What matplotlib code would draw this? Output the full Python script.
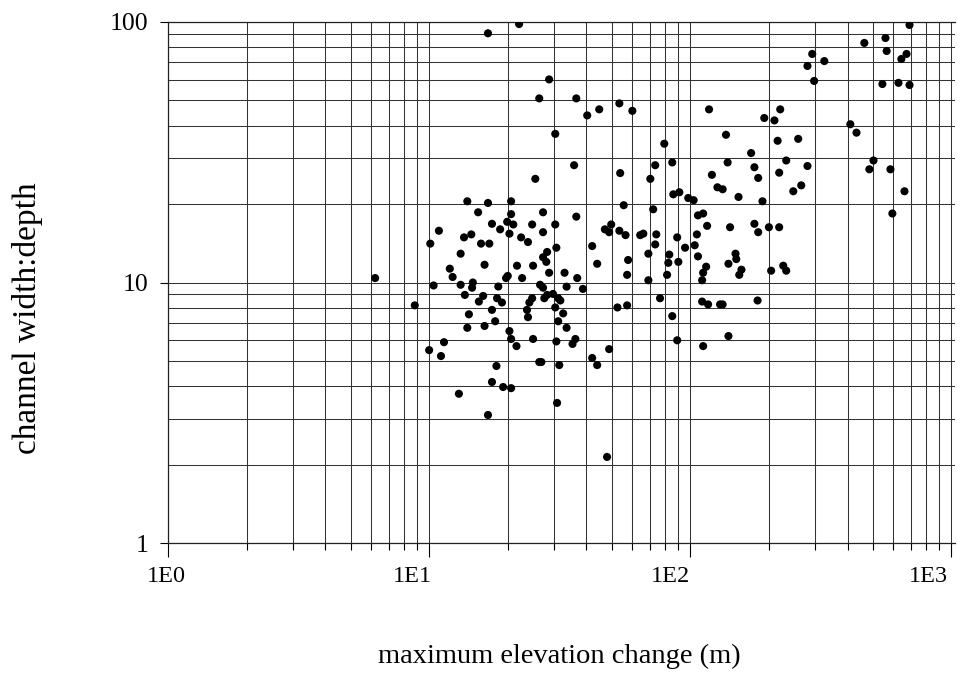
import matplotlib
matplotlib.use('Agg')
import matplotlib.pyplot as plt
from matplotlib.transforms import blended_transform_factory, offset_copy

# ---- data ----
elev_change_m = [
    22.1, 16.8, 28.8, 26.4, 36.6, 40.3, 44.8, 53.5, 60.0, 30.4, 79.5, 85.3, 73.4, 35.9, 53.9, 70.3, 25.5, 90.8,
    691, 559, 464, 565, 673, 643, 293, 326, 281, 298, 544, 627, 691, 118, 221, 192, 210, 410, 433, 137,
    216, 259, 171, 139, 233, 503, 176, 281, 485, 584, 121, 219, 182, 127, 133, 266, 248, 661,
    153, 189, 594, 142, 176, 182, 200, 219, 149, 150, 140, 157, 154, 204, 227, 233, 181, 133,
    86.1, 98.2, 103, 55.6, 72.1, 27.3, 36.6, 107, 112, 116, 30.4, 49.8, 47.1, 48.9, 53.5, 56.5, 27.3, 64.3,
    66.1, 74.1, 106, 89.1, 73.4, 42.1, 30.7, 95.5, 104, 28.3, 27.3, 28.1, 69.1, 83.1, 107, 57.8, 82.4, 90.0,
    44.0, 115, 112, 28.8, 33.0, 57.3, 81.5, 36.9, 111, 69.1, 26.6, 27.3, 33.6, 38.8, 27.6, 28.3, 29.8, 31.2,
    31.8, 76.6, 111, 117, 130, 52.6, 57.3, 30.4, 32.6, 85.3, 31.2, 33.6,
    30.7, 35.4, 36.3, 48.9, 89.1, 112, 140, 26.9, 31.5, 42.1, 44.0, 30.9, 48.0,
    14.0, 16.8, 20.6, 15.4, 20.6, 17.4, 19.9, 21.0, 24.8, 18.7, 20.3, 10.9, 13.6, 14.5, 22.5, 23.9, 15.8, 17.0,
    10.1, 13.2, 16.3, 21.7, 25.0, 12.0, 12.3, 20.0, 19.7, 22.7, 6.21, 14.7, 14.6, 13.2, 10.4, 18.4, 13.7, 16.1,
    15.5, 18.2, 19.0, 24.8, 24.2, 8.81, 17.4, 23.7, 14.2, 23.9, 17.9, 16.3, 14.0, 20.3,
    11.4, 10.0, 11.1, 20.6, 21.6, 25.0, 18.1, 26.4, 17.4, 19.2, 20.6, 13.0, 16.8,
]
width_depth = [
    98.2, 90.5, 60.2, 50.9, 50.9, 43.8, 46.2, 48.7, 45.6, 37.2, 34.1, 28.9, 28.2, 28.2, 26.3, 25.0, 25.0, 22.2,
    97.4, 86.8, 83.1, 77.4, 75.4, 72.1, 75.4, 70.8, 67.8, 59.4, 57.8, 58.4, 57.3, 46.2, 46.2, 42.8, 41.9, 40.5,
    37.6, 36.9, 35.0, 35.6, 31.4, 28.9, 29.4, 29.4, 27.7, 28.0, 27.2, 27.2, 25.9, 26.4, 25.2, 23.2, 22.8, 23.6,
    22.4, 22.4,
    21.3, 20.5, 18.4, 16.3, 16.8, 15.6, 16.3, 16.3, 12.9, 12.3, 11.8, 11.2, 10.7, 11.1, 11.6, 11.1, 8.53, 8.24,
    21.8, 21.1, 20.7, 19.8, 19.1, 18.6, 17.9, 18.1, 18.4, 16.5, 16.7, 16.7, 16.0, 15.6, 15.8, 15.2, 15.6, 15.2,
    15.4, 15.3, 15.3, 14.9, 14.0, 13.8, 13.6, 13.6, 13.9, 13.1, 12.5, 12.0, 12.9, 12.8, 12.6, 12.2, 11.9, 12.0,
    11.8, 11.5, 10.9, 10.9, 10.9, 10.7, 10.7, 10.4, 10.2, 10.2, 9.8, 9.55, 9.64, 9.45, 8.70, 8.96, 9.04, 8.70,
    8.53, 8.70, 8.45, 8.24, 8.24, 8.02, 8.17, 8.02, 7.61, 7.43, 7.10, 6.70,
    5.94, 5.81, 6.07, 5.55, 6.0, 5.70, 6.23, 4.95, 4.82, 5.13, 4.82, 3.45, 2.14,
    20.5, 20.2, 20.5, 18.6, 18.3, 16.8, 17.1, 16.7, 16.7, 16.0, 15.4, 15.8, 14.9, 15.3, 14.9, 14.3, 14.1, 14.1,
    14.1, 12.9, 11.7, 11.6, 11.6, 11.3, 10.5, 10.6, 10.4, 10.4, 10.4, 10.0, 9.55, 9.8, 9.74, 9.65, 8.96, 8.88,
    8.45, 8.70, 8.38, 8.70, 8.38, 8.17, 7.85, 7.85, 7.55, 7.36, 7.10, 6.81, 6.70, 6.51,
    5.90, 5.50, 5.22, 6.07, 5.70, 6.07, 4.78, 4.95, 4.15, 3.97, 3.93, 3.74, 3.10,
]
x_tick_values = [1, 10, 100, 1000]
x_tick_labels = ['1E0', '1E1', '1E2', '1E3']
y_tick_values = [1, 10, 100]
y_tick_labels = ['1', '10', '100']
x_label = 'maximum elevation change (m)'
y_label = 'channel width:depth'

assert len(elev_change_m) == len(width_depth)

SERIF = ['Liberation Serif', 'DejaVu Serif']
W, H = 957, 674
fig = plt.figure(figsize=(W / 100, H / 100), dpi=100)
L, R, T, B = 168, 955, 22, 543
ax = fig.add_axes([L / W, 1 - B / H, (R - L) / W, (B - T) / H])
ax.set_xscale('log')
ax.set_yscale('log')
ax.set_xlim(1, 1032)
ax.set_ylim(1, 100)

ax.grid(which='both', color='#333333', lw=0.75)
ax.set_axisbelow(True)
ax.scatter(elev_change_m, width_depth, s=34, c='black', edgecolors='none', zorder=3)

ax.spines['right'].set_visible(False)
for s in ['left', 'bottom', 'top']:
    ax.spines[s].set_linewidth(0.9)
    ax.spines[s].set_color('#222222')

ax.set_xticks(x_tick_values)
ax.set_xticklabels([])
ax.set_yticks(y_tick_values)
ax.set_yticklabels(y_tick_labels, family=SERIF, fontsize=18.5)
ax.tick_params(axis='x', which='major', length=10, width=0.8, direction='out')
ax.tick_params(axis='x', which='minor', length=5, width=0.8, direction='out')
ax.tick_params(axis='y', which='major', length=6, width=0.8, direction='out', pad=8)
ax.tick_params(axis='y', which='minor', length=0)
ax.yaxis.set_minor_formatter(plt.NullFormatter())
ax.xaxis.set_minor_formatter(plt.NullFormatter())

bt = blended_transform_factory(ax.transData, ax.transAxes)
for val, lab, dx in zip(x_tick_values, x_tick_labels, [-2, -17, -20, -23]):
    tr = offset_copy(bt, fig=fig, x=dx, y=-34, units='dots')
    ax.text(val, 0, lab, transform=tr, ha='center', va='center',
            family=SERIF, fontsize=17.5, clip_on=False)

fig.text(559 / W, 1 - 656 / H, x_label, ha='center', va='center', family=SERIF, fontsize=20.5)
fig.text(28 / W, 1 - 318 / H, y_label, ha='center', va='center', rotation=90,
         family=SERIF, fontsize=24)

fig.savefig('out.png', dpi=100)
